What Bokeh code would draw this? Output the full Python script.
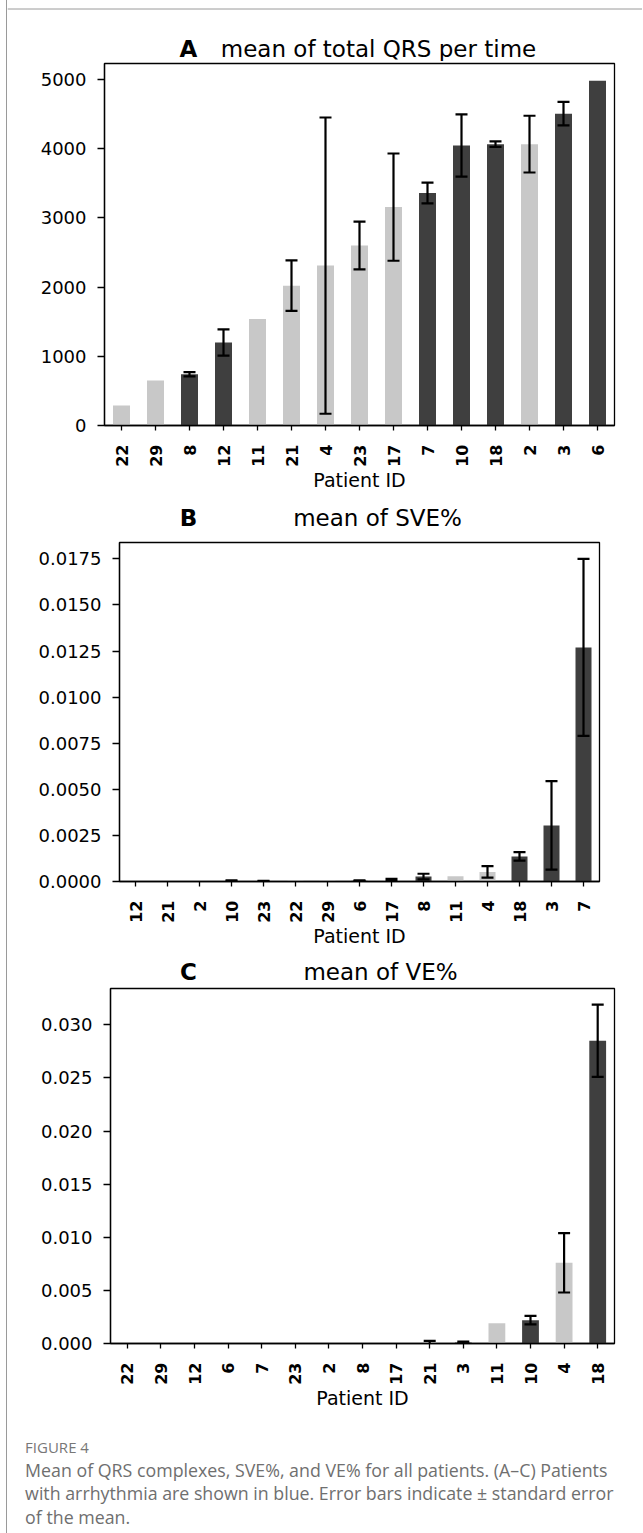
import numpy as np
from bokeh.plotting import figure
from bokeh.models import Range1d, FixedTicker, ColumnDataSource, PrintfTickFormatter
from bokeh.embed import file_html
from bokeh.resources import INLINE
from bokeh.core.properties import value

# ---------------- data ----------------
ids_a = ["22", "29", "8", "12", "11", "21", "4", "23", "17", "7", "10", "18", "2", "3", "6"]
qrs_mean = [290, 650, 740, 1200, 1540, 2020, 2310, 2600, 3155, 3360, 4045, 4065, 4065, 4505, 4980]
qrs_sem = [None, None, 30, 190, None, 365, 2140, 345, 775, 150, 450, 40, 410, 170, None]

ids_b = ["12", "21", "2", "10", "23", "22", "29", "6", "17", "8", "11", "4", "18", "3", "7"]
sve_mean = [0, 0, 0, 0.00003, 0.00002, 0.00008, 0.00008, 0.00004, 0.00008, 0.00027,
            0.00028, 0.00052, 0.00136, 0.00304, 0.0127]
sve_sem = [None, None, None, 0.00003, 0.00002, None, None, 0.00002, 0.00006, 0.00015,
           None, 0.00031, 0.00023, 0.0024, 0.0048]

ids_c = ["22", "29", "12", "6", "7", "23", "2", "8", "17", "21", "3", "11", "10", "4", "18"]
ve_mean = [0, 0, 0, 0, 0, 0, 0, 0, 0, 0.00005, 0.0001, 0.0019, 0.0022, 0.0076, 0.0285]
ve_sem = [None, None, None, None, None, None, None, None, None, 0.0002, 0.00008, None,
          0.0004, 0.0028, 0.0034]

arrhythmia_ids = ["8", "12", "7", "10", "18", "3", "6"]

ticks_a = [0, 1000, 2000, 3000, 4000, 5000]
ticks_b = [0, 0.0025, 0.005, 0.0075, 0.01, 0.0125, 0.015, 0.0175]
ticks_c = [0, 0.005, 0.01, 0.015, 0.02, 0.025, 0.03]

titles = [("A", "mean of total QRS per time"), ("B", "mean of SVE%"), ("C", "mean of VE%")]
caption_head = "FIGURE 4"
caption_lines = ["Mean of QRS complexes, SVE%, and VE% for all patients. (A\u2013C) Patients",
                 "with arrhythmia are shown in blue. Error bars indicate \u00b1 standard error",
                 "of the mean."]

# ---------------- styles ----------------
DARK = "#3f3f3f"
LIGHT = "#c8c8c8"
FRAME_GREY = "#9a9a9a"
W = 636
FONT = "DejaVu Sans"
ROOT_STYLE = {"margin-left": "6px", "border-left": "1px solid " + FRAME_GREY}


def blank(height):
    p = figure(width=W, height=height, output_backend="svg", toolbar_location=None,
               x_range=Range1d(0, W), y_range=Range1d(height, 0),
               x_axis_type=None, y_axis_type=None, min_border=0,
               styles=ROOT_STYLE)
    p.outline_line_color = None
    p.xgrid.visible = False
    p.ygrid.visible = False
    return p


def title_fig(height, letter, text, letter_x, text_x, y, top_line=None):
    p = blank(height)
    if top_line is not None:
        p.line(x=[0, W], y=[top_line, top_line], line_color=FRAME_GREY, line_width=1)
    p.text(x=[letter_x], y=[y], text=[letter], text_font=value(FONT),
           text_font_size=value("23px"), text_font_style="bold", text_color="black",
           text_align="center", text_baseline="middle")
    p.text(x=[text_x], y=[y], text=[text], text_font=value(FONT),
           text_font_size=value("23px"), text_color="black",
           text_align="center", text_baseline="middle")
    return p


def panel(ids, means, sems, yticks, ymax, fmt, geom):
    left, right, top, frame_h, bottom = geom
    height = top + frame_h + bottom
    frame_w = W - left - right
    n = len(ids)
    x0, x1 = -0.5, n - 0.5
    p = figure(width=W, height=height, output_backend="svg", toolbar_location=None,
               x_range=Range1d(x0, x1), y_range=Range1d(0, ymax),
               min_border_left=left, min_border_right=right,
               min_border_top=top, min_border_bottom=bottom,
               background_fill_color="white", border_fill_color="white",
               styles=ROOT_STYLE)
    p.outline_line_color = "black"
    p.outline_line_width = 1.3
    p.xgrid.visible = False
    p.ygrid.visible = False

    xs = list(range(n))
    colors = [DARK if i in arrhythmia_ids else LIGHT for i in ids]
    src = ColumnDataSource(dict(x=xs, top=means, color=colors))
    p.vbar(x="x", top="top", bottom=0, width=0.5, fill_color="color",
           line_color=None, source=src)

    px_per_unit = frame_w / (x1 - x0)
    cap = 6.0 / px_per_unit
    ex = [x for x, s in zip(xs, sems) if s is not None]
    em = [m for m, s in zip(means, sems) if s is not None]
    es = [s for s in sems if s is not None]
    lo = [m - s for m, s in zip(em, es)]
    hi = [m + s for m, s in zip(em, es)]
    esrc = ColumnDataSource(dict(x=ex, lo=lo, hi=hi,
                                 xl=[x - cap for x in ex], xr=[x + cap for x in ex]))
    for a, b, c, d in (("x", "lo", "x", "hi"), ("xl", "hi", "xr", "hi"), ("xl", "lo", "xr", "lo")):
        p.segment(x0=a, y0=b, x1=c, y1=d, line_color="black", line_width=2.2, source=esrc)

    xa = p.xaxis[0]
    xa.ticker = FixedTicker(ticks=xs)
    xa.major_label_overrides = {i: s for i, s in enumerate(ids)}
    xa.major_label_orientation = np.pi / 2
    xa.major_label_text_font = FONT
    xa.major_label_text_font_size = "16px"
    xa.major_label_text_font_style = "bold"
    xa.major_label_text_color = "black"
    xa.major_tick_out = 5
    xa.major_tick_in = 0
    xa.minor_tick_out = 0
    xa.minor_tick_in = 0
    xa.major_label_standoff = 14
    xa.axis_label = "Patient ID"
    xa.axis_label_text_font = FONT
    xa.axis_label_text_font_size = "19px"
    xa.axis_label_text_font_style = "normal"
    xa.axis_label_text_color = "black"
    xa.axis_label_standoff = -1
    xa.axis_line_color = "black"
    xa.axis_line_width = 1.3
    xa.major_tick_line_width = 1.3

    ya = p.yaxis[0]
    ya.ticker = FixedTicker(ticks=yticks)
    if fmt:
        ya.formatter = PrintfTickFormatter(format=fmt)
    ya.major_label_text_font = FONT
    ya.major_label_text_font_size = "18px"
    ya.major_label_text_color = "black"
    ya.major_tick_out = 7
    ya.major_tick_in = 0
    ya.minor_tick_out = 0
    ya.minor_tick_in = 0
    ya.major_label_standoff = 11
    ya.axis_line_color = "black"
    ya.axis_line_width = 1.3
    ya.major_tick_line_width = 1.3
    return p


tA = title_fig(61, titles[0][0], titles[0][1], 181, 371, 48.5, top_line=8.5)
pA = panel(ids_a, qrs_mean, qrs_sem, ticks_a, 5230, None, (97, 29, 2, 362, 75))
tB = title_fig(37, titles[1][0], titles[1][1], 181, 370, 17)
pB = panel(ids_b, sve_mean, sve_sem, ticks_b, 0.01839, "%.4f", (112, 44, 5, 339, 69))
tC = title_fig(35, titles[2][0], titles[2][1], 181, 373, 21.5)
pC = panel(ids_c, ve_mean, ve_sem, ticks_c, 0.03342, "%.3f", (103, 29, 3, 355, 77))

cap = blank(113)
cap.text(x=[17.6], y=[26.7], text=[caption_head], text_font=value("Open Sans"),
         text_font_size=value("15px"), text_color="#777777", text_baseline="middle")
cap.text(x=[17.6] * 3, y=[49, 72.7, 96.7], text=caption_lines, text_font=value("Open Sans"),
         text_font_size=value("17.8px"), text_color="#6f6f6f", text_baseline="middle")

roots = [tA, pA, tB, pB, tC, pC, cap]
open("out.html", "w").write(file_html(roots, INLINE))
